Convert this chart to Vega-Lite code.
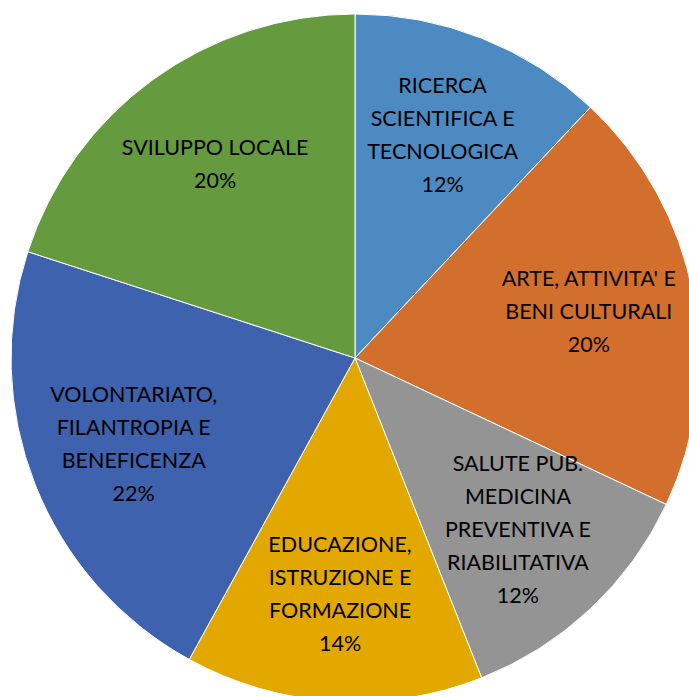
{
  "$schema": "https://vega.github.io/schema/vega-lite/v6.json",
  "width": 710,
  "height": 716,
  "autosize": {"type": "none"},
  "padding": 0,
  "background": "white",
  "view": {"stroke": null},
  "data": {
    "values": [
      {"ordine": 1, "categoria": "RICERCA\nSCIENTIFICA E\nTECNOLOGICA", "valore": 12},
      {"ordine": 2, "categoria": "ARTE, ATTIVITA' E\nBENI CULTURALI", "valore": 20},
      {"ordine": 3, "categoria": "SALUTE PUB.\nMEDICINA\nPREVENTIVA E\nRIABILITATIVA", "valore": 12},
      {"ordine": 4, "categoria": "EDUCAZIONE,\nISTRUZIONE E\nFORMAZIONE", "valore": 14},
      {"ordine": 5, "categoria": "VOLONTARIATO,\nFILANTROPIA E\nBENEFICENZA", "valore": 22},
      {"ordine": 6, "categoria": "SVILUPPO LOCALE", "valore": 20}
    ]
  },
  "transform": [
    {"calculate": "datum.categoria + '\\n' + datum.valore + '%'", "as": "etichetta"}
  ],
  "encoding": {
    "theta": {"field": "valore", "type": "quantitative", "stack": true},
    "order": {"field": "ordine", "type": "quantitative"}
  },
  "layer": [
    {
      "mark": {"type": "arc", "outerRadius": 344, "stroke": "white", "strokeWidth": 1},
      "encoding": {
        "color": {
          "field": "categoria",
          "type": "nominal",
          "legend": null,
          "sort": null,
          "scale": {
            "domain": [
              "RICERCA\nSCIENTIFICA E\nTECNOLOGICA",
              "ARTE, ATTIVITA' E\nBENI CULTURALI",
              "SALUTE PUB.\nMEDICINA\nPREVENTIVA E\nRIABILITATIVA",
              "EDUCAZIONE,\nISTRUZIONE E\nFORMAZIONE",
              "VOLONTARIATO,\nFILANTROPIA E\nBENEFICENZA",
              "SVILUPPO LOCALE"
            ],
            "range": ["#4E8AC2", "#D36F2C", "#949494", "#E3A800", "#3E62AD", "#659A3E"]
          }
        }
      }
    },
    {
      "mark": {
        "type": "text",
        "radius": 238,
        "font": "Lato",
        "fontSize": 21.5,
        "lineHeight": 33,
        "lineBreak": "\n",
        "align": "center",
        "baseline": "middle",
        "color": "black",
        "dy": {"expr": "-(length(split(datum.etichetta, '\\n')) - 1) * 16.5"}
      },
      "encoding": {
        "text": {"field": "etichetta", "type": "nominal"}
      }
    }
  ]
}
